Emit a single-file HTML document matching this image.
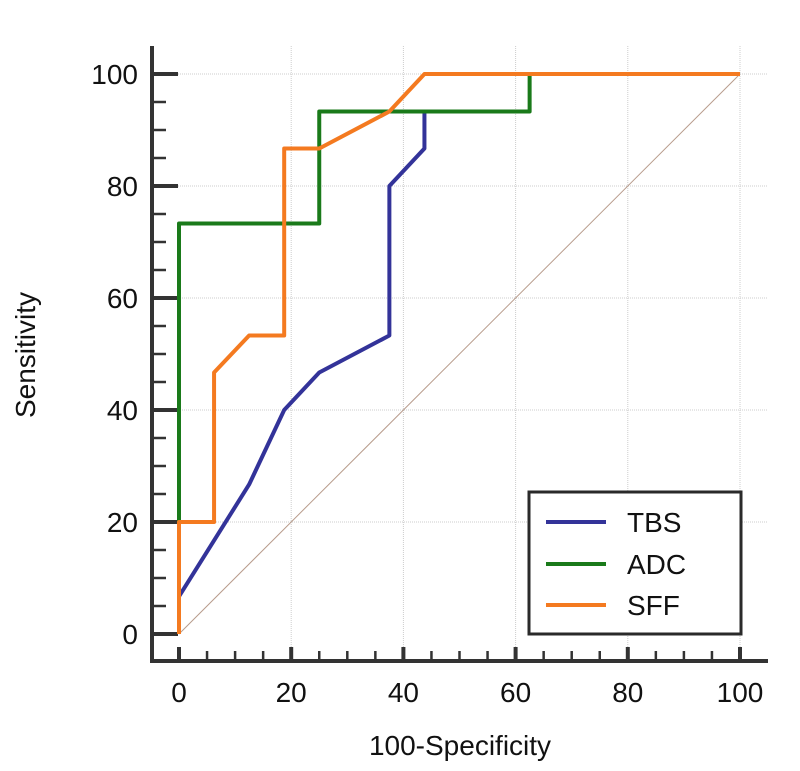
<!DOCTYPE html>
<html><head><meta charset="utf-8"><style>
body{margin:0;background:#fff;}
svg text{font-family:"Liberation Sans",sans-serif;fill:#111;}
</style></head><body>
<svg id="chart" width="800" height="766" viewBox="0 0 800 766" xmlns="http://www.w3.org/2000/svg">
<g id="grid"></g>
<g id="axes"></g>
<g id="series"></g>
<g>
<rect x="529" y="492" width="212" height="142" fill="#fff" stroke="#2a2a2a" stroke-width="3"/>
<line x1="546" y1="522" x2="606" y2="522" stroke="#333399" stroke-width="4"/>
<text x="627" y="532" font-size="28">TBS</text>
<line x1="546" y1="564" x2="606" y2="564" stroke="#1a7a1a" stroke-width="4"/>
<text x="627" y="574" font-size="28">ADC</text>
<line x1="546" y1="605" x2="606" y2="605" stroke="#f47a20" stroke-width="4"/>
<text x="627" y="615" font-size="28">SFF</text>
</g>
<text x="460" y="755" font-size="28" text-anchor="middle">100-Specificity</text>
<text x="0" y="0" font-size="28" text-anchor="middle" transform="translate(35,355) rotate(-90)">Sensitivity</text>
</svg>
<script>
const xTicks=[0,20,40,60,80,100];
const yTicks=[0,20,40,60,80,100];
const tbsX=[0,12.5,18.75,25,37.5,37.5,43.75,43.75];
const tbsY=[6.7,26.7,40,46.7,53.3,80,86.7,93.3];
const adcX=[0,0,25,25,62.5,62.5,100];
const adcY=[0,73.3,73.3,93.3,93.3,100,100];
const sffX=[0,0,6.25,6.25,12.5,18.75,18.75,25,37.5,43.75,100];
const sffY=[0,20,20,46.7,53.3,53.3,86.7,86.7,93.3,100,100];
const NS="http://www.w3.org/2000/svg";
const sx=v=>179+v*5.61, sy=v=>634-v*5.6;
function mk(t,a,p){const e=document.createElementNS(NS,t);for(const k in a)e.setAttribute(k,a[k]);p.appendChild(e);return e;}
const grid=document.getElementById('grid'),axes=document.getElementById('axes'),ser=document.getElementById('series');
xTicks.forEach(v=>{if(v>0){const l=mk('line',{x1:sx(v),x2:sx(v),y1:46,y2:661,stroke:'#ccc','stroke-width':1,'stroke-dasharray':'1 1'},grid);

}});
yTicks.forEach(v=>{if(v>0){const l=mk('line',{x1:152,x2:768,y1:sy(v),y2:sy(v),stroke:'#ccc','stroke-width':1,'stroke-dasharray':'1 1'},grid);

}});
mk('line',{x1:152,y1:46,x2:152,y2:663,stroke:'#333','stroke-width':4},axes);
mk('line',{x1:150,y1:661,x2:768,y2:661,stroke:'#333','stroke-width':4},axes);
for(let v=0;v<=100;v+=5){const maj=v%20===0;
mk('line',{x1:sx(v),x2:sx(v),y1:661,y2:maj?647:651,stroke:'#333','stroke-width':maj?4:2.5},axes);
mk('line',{x1:152,x2:maj?178:166,y1:sy(v),y2:sy(v),stroke:'#333','stroke-width':maj?4:2.5},axes);}
xTicks.forEach(v=>{const t=mk('text',{x:sx(v),y:702,'font-size':28,'text-anchor':'middle'},axes);t.textContent=v;

});
yTicks.forEach(v=>{const t=mk('text',{x:138,y:sy(v)+10,'font-size':28,'text-anchor':'end'},axes);t.textContent=v;

});
const d=mk('line',{x1:sx(0),y1:sy(0),x2:sx(100),y2:sy(100),stroke:'#b89c8c','stroke-width':1},ser);


function line(xs,ys,c,n){const p=mk('polyline',{points:xs.map((x,i)=>sx(x)+','+sy(ys[i])).join(' '),fill:'none',stroke:c,'stroke-width':4,'stroke-linejoin':'round'},ser);

}
line(tbsX,tbsY,'#333399','tbs-curve');
line(adcX,adcY,'#1a7a1a','adc-curve');
line(sffX,sffY,'#f47a20','sff-curve');
</script>
</body></html>
